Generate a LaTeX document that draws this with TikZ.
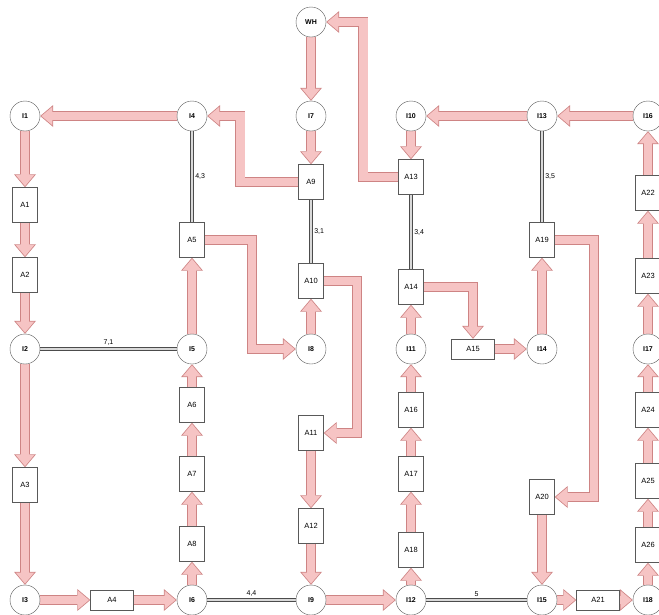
\documentclass[tikz,border=0pt]{standalone}
\usepackage{fontspec}
\setmainfont{Liberation Sans}
\usetikzlibrary{arrows.meta,backgrounds}
\definecolor{flowfill}{RGB}{246,196,196}
\definecolor{flowline}{RGB}{206,132,132}
\tikzset{
  inode/.style={draw=black!65, circle, fill=white, minimum size=30pt, inner sep=0pt, font=\fontsize{7}{8}\selectfont\bfseries},
  abox/.style={draw=black!65, rectangle, fill=white, minimum width=25pt, minimum height=35pt, inner sep=0pt, font=\fontsize{7.5}{8}\selectfont},
  wbox/.style={abox, minimum width=43pt, minimum height=20pt},
  link/.style={draw=black!70, double=black!15, double distance=1.8pt, line width=0.7pt},
  wt/.style={font=\fontsize{7}{8}\selectfont, inner sep=3pt},
  fout/.style={draw=flowline, line width=10pt, line join=miter, -{Triangle[length=13pt, width=22pt, line width=0pt]}},
  fin/.style={draw=flowfill, line width=8.4pt, line join=miter, shorten >=1.24pt, -{Triangle[length=10.96pt, width=18.5pt, line width=0pt]}},
}
\newcommand{\flow}[1]{\draw[fout] #1; \draw[fin] #1;}
\begin{document}
\begin{tikzpicture}[x=1pt,y=-1pt]
\useasboundingbox (0,0) rectangle (659,614);
\node[inode] (WH) at (311,22) {WH};
\node[inode] (I1) at (25,116) {I1};
\node[inode] (I4) at (192,116) {I4};
\node[inode] (I7) at (311,116) {I7};
\node[inode] (I10) at (411,116) {I10};
\node[inode] (I13) at (542,116) {I13};
\node[inode] (I16) at (648,116) {I16};
\node[inode] (I2) at (25,349) {I2};
\node[inode] (I5) at (192,349) {I5};
\node[inode] (I8) at (311,349) {I8};
\node[inode] (I11) at (411,349) {I11};
\node[inode] (I14) at (542,349) {I14};
\node[inode] (I17) at (648,349) {I17};
\node[inode] (I3) at (25,600) {I3};
\node[inode] (I6) at (192,600) {I6};
\node[inode] (I9) at (311,600) {I9};
\node[inode] (I12) at (411,600) {I12};
\node[inode] (I15) at (542,600) {I15};
\node[inode] (I18) at (648,600) {I18};
\node[abox] (A1) at (25,205) {A1};
\node[abox] (A2) at (25,275) {A2};
\node[abox] (A3) at (25,485) {A3};
\node[wbox] (A4) at (112,600) {A4};
\node[abox] (A5) at (192,240) {A5};
\node[abox] (A6) at (192,405) {A6};
\node[abox] (A7) at (192,474) {A7};
\node[abox] (A8) at (192,544) {A8};
\node[abox] (A9) at (311,182) {A9};
\node[abox] (A10) at (311,281) {A10};
\node[abox] (A11) at (311,433) {A11};
\node[abox] (A12) at (311,526) {A12};
\node[abox] (A13) at (411,177) {A13};
\node[abox] (A14) at (411,287) {A14};
\node[wbox] (A15) at (473,349) {A15};
\node[abox] (A16) at (411,410) {A16};
\node[abox] (A17) at (411,474) {A17};
\node[abox] (A18) at (411,550) {A18};
\node[abox] (A19) at (542,240) {A19};
\node[abox] (A20) at (542,497) {A20};
\node[wbox] (A21) at (598,600) {A21};
\node[abox] (A22) at (648,193) {A22};
\node[abox] (A23) at (648,276) {A23};
\node[abox] (A24) at (648,410) {A24};
\node[abox] (A25) at (648,481) {A25};
\node[abox] (A26) at (648,545) {A26};
\begin{scope}[on background layer]
\draw[link] (I4) -- node[wt, right] {4,3} (A5);
\draw[link] (A9) -- node[wt, right] {3,1} (A10);
\draw[link] (I2) -- node[wt, above] {7,1} (I5);
\draw[link] (I6) -- node[wt, above] {4,4} (I9);
\draw[link] (A13) -- node[wt, right] {3,4} (A14);
\draw[link] (I13) -- node[wt, right] {3,5} (A19);
\draw[link] (I12) -- node[wt, above] {5} (I15);
\flow{(WH) -- (I7)}
\flow{(I7) -- (A9)}
\flow{(A9.west) -- ++(-58,0) |- (I4)}
\flow{(I4) -- (I1)}
\flow{(I1) -- (A1)}
\flow{(A1) -- (A2)}
\flow{(A2) -- (I2)}
\flow{(I2) -- (A3)}
\flow{(A3) -- (I3)}
\flow{(I3) -- (A4)}
\flow{(A4) -- (I6)}
\flow{(I6) -- (A8)}
\flow{(A8) -- (A7)}
\flow{(A7) -- (A6)}
\flow{(A6) -- (I5)}
\flow{(I5) -- (A5)}
\flow{(A5.east) -- ++(47,0) |- (I8)}
\flow{(I8) -- (A10)}
\flow{(A10.east) -- ++(33,0) |- (A11)}
\flow{(A11) -- (A12)}
\flow{(A12) -- (I9)}
\flow{(I9) -- (I12)}
\flow{(I12) -- (A18)}
\flow{(A18) -- (A17)}
\flow{(A17) -- (A16)}
\flow{(A16) -- (I11)}
\flow{(I11) -- (A14)}
\flow{(A14.east) -| (A15)}
\flow{(A15) -- (I14)}
\flow{(I14) -- (A19)}
\flow{(A19.east) -- ++(39,0) |- (A20)}
\flow{(A20) -- (I15)}
\flow{(I15) -- (A21)}
\flow{(A21) -- (I18)}
\flow{(I18) -- (A26)}
\flow{(A26) -- (A25)}
\flow{(A25) -- (A24)}
\flow{(A24) -- (I17)}
\flow{(I17) -- (A23)}
\flow{(A23) -- (A22)}
\flow{(A22) -- (I16)}
\flow{(I16) -- (I13)}
\flow{(I13) -- (I10)}
\flow{(I10) -- (A13)}
\flow{(A13.west) -- ++(-35,0) |- (WH)}
\end{scope}
\end{tikzpicture}
\end{document}
